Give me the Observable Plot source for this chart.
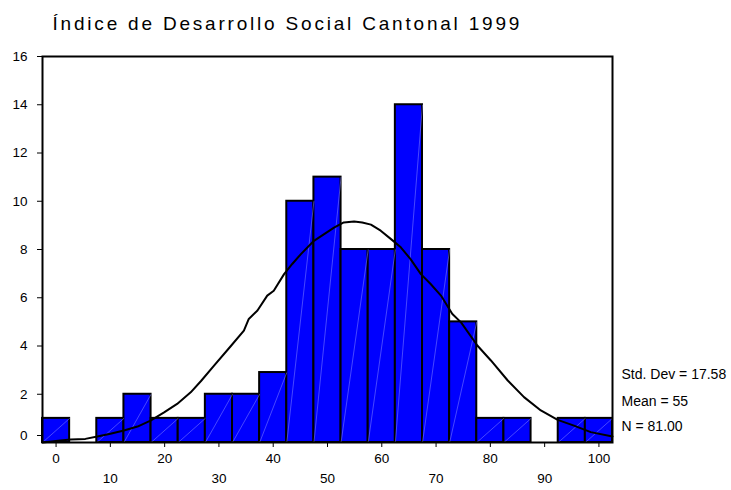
<!DOCTYPE html>
<html>
<head>
<meta charset="utf-8">
<script src="https://cdn.jsdelivr.net/npm/d3@7"></script>
<script src="https://cdn.jsdelivr.net/npm/@observablehq/plot@0.6"></script>
<style>
  html, body { margin: 0; padding: 0; background: #fff; }
</style>
</head>
<body>
<div id="chart"></div>
<script>
// ---- data ----
const title = "Índice de Desarrollo Social Cantonal 1999";
const binWidth = 5;
const binCenters = [0, 5, 10, 15, 20, 25, 30, 35, 40, 45, 50, 55, 60, 65, 70, 75, 80, 85, 90, 95, 100];
const counts     = [1, 0, 1, 2, 1, 1, 2, 2, 2.9, 10, 11, 8, 8, 14, 8, 5, 1, 1, 0, 1, 1];

// normal curve
const curveX = [-2.5, 0.8, 2.7, 5.4, 7.6, 10, 12.5, 15, 17.4, 19.9, 22.3, 24.8, 26.7, 29.1, 32.2, 34.6, 35.5, 37.1, 38.9, 40.1, 42.0, 43.5, 45.1, 47.5, 51.2, 53.0, 54.9, 56.4, 58.0, 59.8, 61.7, 63.5, 65.3, 67.2, 69.0, 70.9, 73.0, 74.6, 77.6, 80.1, 83.2, 86.2, 89.3, 92.4, 95.4, 98.5, 102.5];
const curveY = [0.0, 0.08, 0.12, 0.15, 0.25, 0.36, 0.5, 0.66, 0.91, 1.25, 1.6, 2.08, 2.55, 3.19, 4.0, 4.64, 5.12, 5.47, 6.09, 6.29, 6.98, 7.4, 7.81, 8.36, 8.91, 9.12, 9.16, 9.12, 9.03, 8.78, 8.43, 8.09, 7.6, 6.98, 6.57, 6.09, 5.33, 4.98, 4.02, 3.4, 2.57, 1.88, 1.33, 0.94, 0.7, 0.43, 0.25];

const xTicksRow1 = [0, 20, 40, 60, 80, 100];
const xTicksRow2 = [10, 30, 50, 70, 90];
const yTicks = [2, 4, 6, 8, 10, 12, 14, 16];
const stats = ["Std. Dev = 17.58", "Mean = 55", "N = 81.00"];

// ---- build tables ----
const bins = binCenters.map((c, i) => ({x1: c - binWidth / 2, x2: c + binWidth / 2, count: counts[i]}))
  .filter(d => d.count > 0);
const curve = curveX.map((x, i) => ({x, y: curveY[i]}));

const statOffsets = [-68, -41, -16];
const statMarks = stats.map((s, i) =>
  Plot.text([s], {text: d => d, frameAnchor: "bottom-right", textAnchor: "start", lineAnchor: "middle",
    dx: 9, dy: statOffsets[i], fontSize: 14}));

const chart = Plot.plot({
  width: 731,
  height: 490,
  marginLeft: 42,
  marginRight: 119,
  marginTop: 56,
  marginBottom: 48,
  style: {fontFamily: "'Liberation Sans', Arial, sans-serif", fontSize: "13.5px", background: "#fff", color: "#000"},
  x: {domain: [-2.5, 102.5]},
  y: {domain: [0, 16]},
  marks: [
    Plot.rect(bins, {x1: "x1", x2: "x2", y1: 0, y2: "count", fill: "#0000ff", stroke: "#000", strokeWidth: 2, inset: 0}),
    Plot.link(bins, {x1: "x1", x2: "x2", y1: 0, y2: "count", stroke: "#8080ff", strokeWidth: 0.7, strokeOpacity: 0.8}),
    Plot.line(curve, {x: "x", y: "y", stroke: "#000", strokeWidth: 2, curve: "linear"}),
    Plot.frame({stroke: "#000", strokeWidth: 2}),
    Plot.axisY({ticks: yTicks, tickSize: 5, tickPadding: 10, label: null, fontSize: 13.5}),
    Plot.axisY({ticks: [0], tickSize: 5, tickPadding: 10, label: null, dy: -7, fontSize: 13.5}),
    Plot.axisX({ticks: xTicksRow1, tickSize: 5, tickPadding: 6, label: null, fontSize: 13.5}),
    Plot.axisX({ticks: xTicksRow2, tickSize: 5, tickPadding: 26, label: null, fontSize: 13.5}),
    ...statMarks,
    Plot.text([title], {text: d => d, frameAnchor: "top-left", textAnchor: "start", lineAnchor: "bottom",
      dx: 10, dy: -27, fontSize: 19})
  ]
});
document.getElementById("chart").appendChild(chart);

// widen the title's letter spacing as in the reference
chart.querySelectorAll("text").forEach(t => {
  if (t.textContent === title) t.setAttribute("letter-spacing", "2.8");
});
</script>
</body>
</html>
